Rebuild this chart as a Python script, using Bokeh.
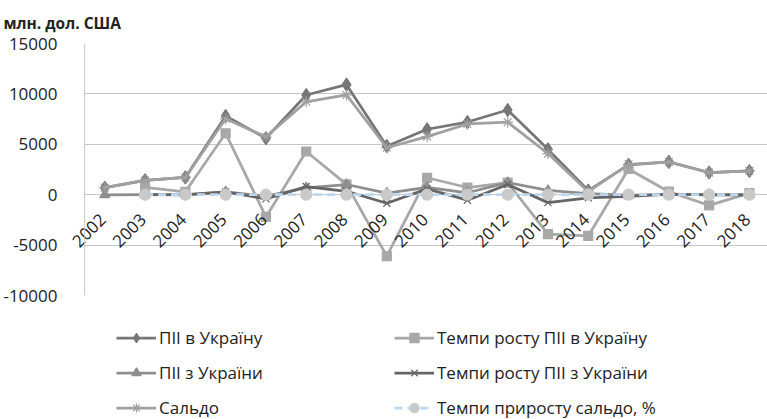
import math
from bokeh.plotting import figure
from bokeh.layouts import column
from bokeh.models import (Range1d, Legend, LegendItem, ColumnDataSource, FixedTicker,
                          Title, Span, BoxAnnotation, CustomJSTickFormatter)
from bokeh.core.properties import value
from bokeh.embed import file_html
from bokeh.resources import INLINE

nan = float("nan")
years = [2002, 2003, 2004, 2005, 2006, 2007, 2008, 2009, 2010,
         2011, 2012, 2013, 2014, 2015, 2016, 2017, 2018]
fdi_in = [693, 1424, 1715, 7808, 5604, 9891, 10913, 4816, 6495,
          7207, 8401, 4499, 410, 2961, 3258, 2202, 2355]
fdi_in_growth = [nan, 731, 291, 6093, -2204, 4287, 1022, -6097, 1679,
                 712, 1194, -3902, -4089, 2551, 297, -1056, 153]
fdi_out = [-5, 13, 4, 275, -133, 673, 1010, 162, 736,
           192, 1206, 420, 111, -51, 16, 8, -5]
fdi_out_growth = [nan, 18, -9, 271, -408, 806, 337, -848, 574,
                  -544, 1014, -786, -309, -162, 67, -8, -13]
balance = [698, 1411, 1711, 7533, 5737, 9218, 9903, 4654, 5759,
           7015, 7195, 4079, 299, 3012, 3242, 2194, 2360]
balance_growth_pct = [nan, 1.02, 0.21, 3.40, -0.24, 0.61, 0.07, -0.53, 0.24,
                      0.22, 0.03, -0.43, -0.93, 9.07, 0.08, -0.32, 0.08]
y_ticks = [-10000, -5000, 0, 5000, 10000, 15000]
unit_label = "млн. дол. США"
names = ["ПІІ в Україну", "Темпи росту ПІІ в Україну", "ПІІ з України",
         "Темпи росту ПІІ з України", "Сальдо", "Темпи приросту сальдо, %"]

FONT = "Open Sans"
GRID = "#c6c6c6"
TXT = "#222222"

styles = [
    dict(color="#767676", marker="diamond", size=13, dash="solid"),
    dict(color="#a8a8a8", marker="square", size=9, dash="solid"),
    dict(color="#8e8e8e", marker="triangle", size=10, dash="solid"),
    dict(color="#656565", marker="x", size=10, dash="solid"),
    dict(color="#a0a0a0", marker="asterisk", size=11, dash="solid"),
    dict(color="#bdd7ee", marker="circle", size=11, dash="8 5", mcolor="#c9c9c9"),
]
series = [fdi_in, fdi_in_growth, fdi_out, fdi_out_growth, balance, balance_growth_pct]

x0 = years[0] - 0.851
p = figure(width=767, height=305, output_backend="svg", toolbar_location=None,
           x_range=Range1d(x0, x0 + 17.3),
           y_range=Range1d(-10000, 15000),
           min_border_left=70, min_border_right=0, min_border_top=40,
           min_border_bottom=10)
p.outline_line_color = None
p.xaxis.visible = False
p.xgrid.visible = False
p.ygrid.ticker = FixedTicker(ticks=y_ticks)
p.ygrid.grid_line_color = GRID
p.ygrid.grid_line_width = 1
yax = p.yaxis[0]
yax.ticker = FixedTicker(ticks=y_ticks)
yax.formatter = CustomJSTickFormatter(code="return String(tick);")
yax.axis_line_color = None
yax.major_tick_line_color = None
yax.minor_tick_line_color = None
yax.major_label_standoff = 7
yax.major_label_text_font = FONT
yax.major_label_text_font_size = "17px"
yax.major_label_text_color = TXT

# value axis crosses at the first category boundary
edge = years[0] - 0.5
p.add_layout(BoxAnnotation(right=edge, fill_color="white", fill_alpha=1,
                           line_color=None, level="underlay"))
p.add_layout(Span(location=edge, dimension="height", line_color=GRID, line_width=1))

src = ColumnDataSource(dict(x=years, lab=[str(y) for y in years], zero=[0] * len(years)))
for i, vals in enumerate(series):
    src.data[f"s{i}"] = vals

LW = 2.75


def draw(fig, i, st):
    mc = st.get("mcolor", st["color"])
    rl = fig.line("x", f"s{i}", source=src, line_color=st["color"], line_width=LW,
                  line_dash=st["dash"])
    rm = fig.scatter("x", f"s{i}", source=src, marker=st["marker"], size=st["size"],
                     fill_color=mc, line_color=mc, line_width=1.2)
    return [rl, rm]


for i, st in enumerate(styles):
    draw(p, i, st)

p.text("x", "zero", text="lab", source=src, angle=math.pi / 4, text_align="right",
       text_baseline="middle", y_offset=22, x_offset=-2, text_font=value(FONT),
       text_font_size="17px", text_color=TXT)

p.add_layout(Title(text=unit_label, align="left", offset=-67, standoff=19,
                   text_font=FONT, text_font_size="15.5px", text_font_style="bold",
                   text_color=TXT), "above")

# legend panel (same series, drawn out of view; only their legend glyphs show)
q = figure(width=767, height=114, output_backend="svg", toolbar_location=None,
           x_axis_type=None, y_axis_type=None, x_range=Range1d(0, 1), y_range=Range1d(0, 1),
           min_border=0)
q.outline_line_color = None
proxies = [draw(q, i, st) for i, st in enumerate(styles)]
order = [0, 2, 4, 1, 3, 5]
items = [LegendItem(label=names[k], renderers=proxies[k]) for k in order]
leg = Legend(items=items, location=(46, 0.5), ncols=2, padding=0, margin=0,
             spacing=12, glyph_width=40, glyph_height=23, label_height=23,
             label_width=223, label_standoff=3, border_line_color=None,
             background_fill_alpha=0, label_text_font=FONT,
             label_text_font_size="17px", label_text_color=TXT)
q.add_layout(leg, "center")

open("out.html", "w").write(file_html(column(p, q), INLINE))
